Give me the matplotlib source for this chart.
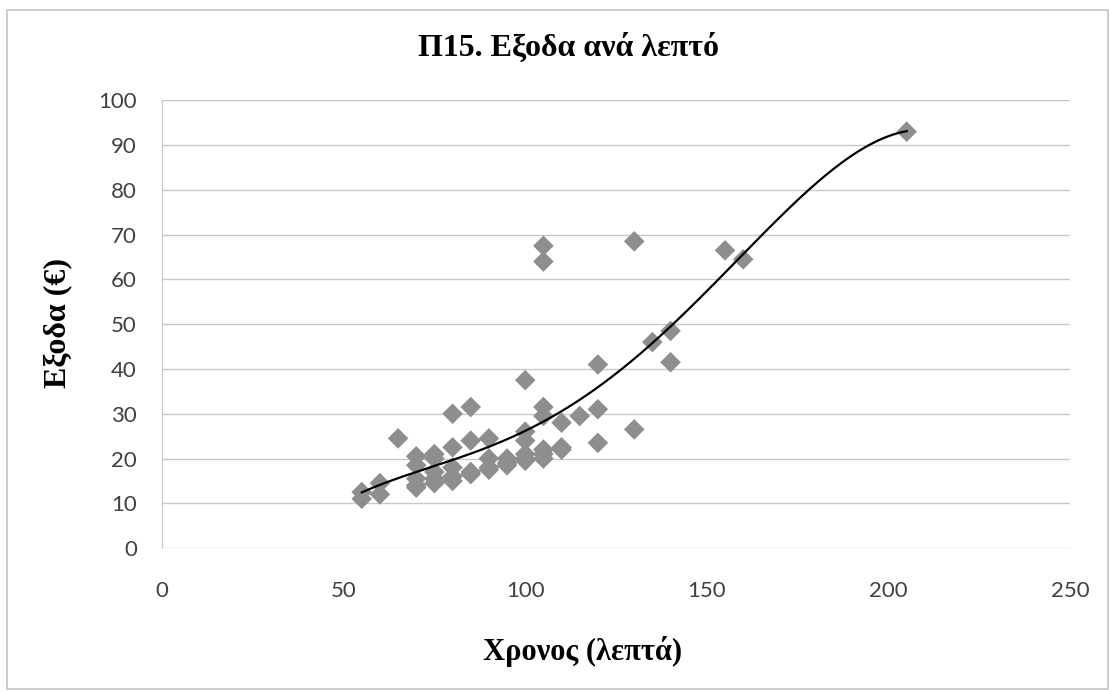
import matplotlib.pyplot as plt
import numpy as np
from matplotlib.patches import Rectangle

# travel time (minutes) and cost (euro)
minutes = [
    55, 55, 60, 60, 65,
    70, 70, 70, 70, 70,
    75, 75, 75, 75, 75,
    80, 80, 80, 80, 80,
    85, 85, 85, 85,
    90, 90, 90, 90,
    95, 95, 95,
    100, 100, 100, 100, 100, 100,
    105, 105, 105, 105, 105, 105, 105,
    110, 110, 110,
    115,
    120, 120, 120,
    130, 130,
    135,
    140, 140,
    155, 160, 205,
]
cost = [
    12.5, 11.0, 14.5, 12.0, 24.5,
    20.5, 18.5, 15.5, 14.0, 13.5,
    21.0, 20.0, 17.0, 15.5, 14.5,
    30.0, 22.5, 18.0, 16.0, 15.0,
    31.5, 24.0, 17.0, 16.5,
    24.5, 20.0, 18.0, 17.5,
    20.0, 19.0, 18.5,
    37.5, 26.0, 24.0, 21.0, 20.0, 19.5,
    67.5, 64.0, 31.5, 29.5, 22.0, 21.0, 20.0,
    28.0, 22.5, 22.0,
    29.5,
    41.0, 31.0, 23.5,
    68.5, 26.5,
    46.0,
    48.5, 41.5,
    66.5, 64.5, 93.0,
]
x_ticks = [0, 50, 100, 150, 200, 250]
y_ticks = list(range(0, 101, 10))

title = "Π15. Εξοδα ανά λεπτό"
x_label = "Χρονος (λεπτά)"
y_label = "Εξοδα (€)"

serif = ["Liberation Serif", "DejaVu Serif"]
tick_font = ["Lato", "DejaVu Sans"]

fig = plt.figure(figsize=(11.09, 6.92), dpi=100)
fig.patches.append(
    Rectangle((0.006, 0.005), 0.993, 0.981, transform=fig.transFigure,
              fill=False, edgecolor="#c4c4c4", linewidth=1.2)
)
ax = fig.add_axes([0.146, 0.208, 0.819, 0.647])

ax.scatter(minutes, cost, marker="D", s=110, color="#8e8e8e",
           edgecolors="none", zorder=3)

# order-4 polynomial trendline over the data range (Excel style)
coef = np.polyfit(minutes, cost, 4)
xs = np.linspace(min(minutes), max(minutes), 300)
ax.plot(xs, np.polyval(coef, xs), color="black", linewidth=1.6, zorder=4)

ax.set_xlim(0, 250)
ax.set_ylim(0, 100)
ax.set_xticks(x_ticks)
ax.set_yticks(y_ticks)
ax.grid(axis="y", color="#c8c8c8", linewidth=1.0)
ax.set_axisbelow(True)
for side in ("top", "right", "bottom"):
    ax.spines[side].set_visible(False)
ax.spines["left"].set_color("#c8c8c8")
ax.tick_params(length=0, labelsize=16, labelcolor="#404040")
ax.tick_params(axis="x", pad=24)
ax.tick_params(axis="y", pad=18)
for lab in ax.get_xticklabels() + ax.get_yticklabels():
    lab.set_family(tick_font)

fig.text(0.513, 0.931, title, ha="center", va="center", family=serif,
         fontweight="bold", fontsize=23)
fig.text(0.525, 0.058, x_label, ha="center", va="center", family=serif,
         fontweight="bold", fontsize=22)
fig.text(0.052, 0.533, y_label, ha="center", va="center", family=serif,
         fontweight="bold", fontsize=23, rotation=90)

fig.savefig("out.png", dpi=100)
plt.close(fig)
